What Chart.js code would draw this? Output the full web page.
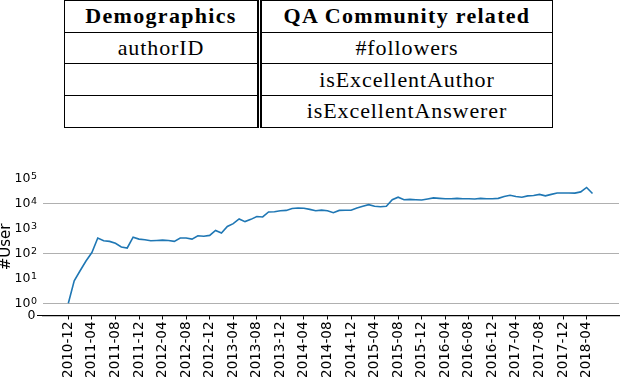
<!DOCTYPE html>
<html>
<head>
<meta charset="utf-8">
<script src="https://cdn.jsdelivr.net/npm/chart.js@4.4.1/dist/chart.umd.min.js"></script>
<style>
  html, body { margin: 0; padding: 0; background: #fff; }
  body { width: 620px; height: 378px; position: relative; overflow: hidden; }
  table {
    position: absolute; left: 64px; top: 0px; width: 489px;
    border-collapse: collapse;
    font-family: "Liberation Serif", serif; font-size: 22px; color: #000;
  }
  th, td { border: 1px solid #000; height: 30.7px; padding: 0; text-align: center; letter-spacing: 0.9px; }
  th { font-weight: bold; letter-spacing: 1.3px; }
  .c1 { width: 192px; }
  .c2 { border-left: 5px double #000; }
  #wrap { position: absolute; left: 0; top: 150px; width: 620px; height: 228px; }
</style>
</head>
<body>
<table>
  <tr><th class="c1">Demographics</th><th class="c2">QA Community related</th></tr>
  <tr><td class="c1">authorID</td><td class="c2">#followers</td></tr>
  <tr><td class="c1"></td><td class="c2">isExcellentAuthor</td></tr>
  <tr><td class="c1"></td><td class="c2">isExcellentAnswerer</td></tr>
</table>
<div id="wrap"><canvas id="myChart" width="620" height="228"></canvas></div>
<script>
// monthly users, 2010-12 .. 2018-05
const startYear = 2010, startMonth = 12;
const users = [
  1, 8, 20, 49, 107, 410, 318, 300, 250, 180,
  163, 440, 370, 350, 318, 325, 336, 325, 300, 410,
  410, 370, 500, 480, 520, 820, 650, 1180, 1540, 2360,
  1850, 2280, 2950, 2850, 4500, 4600, 5000, 5200, 6150, 6500,
  6300, 5700, 5050, 5350, 5000, 4200, 5200, 5300, 5300, 6500,
  7600, 8800, 7600, 7300, 7600, 13900, 17500, 13900, 14300, 13900,
  13500, 14900, 16400, 15800, 15300, 15300, 15800, 15300, 15300, 14900,
  15800, 15300, 15300, 15800, 18700, 21000, 18700, 17500, 19800, 20500,
  22800, 19800, 22800, 26000, 26000, 26000, 25500, 28600, 43000, 24600
];
const months = users.map((v, i) => {
  const m = (startMonth - 1 + i) % 12 + 1;
  const y = startYear + Math.floor((startMonth - 1 + i) / 12);
  return y + "-" + String(m).padStart(2, "0");
});
const xTickIdx = months.map((m, i) => i).filter(i => i % 4 === 0);

const yTicks = [0, 1, 10, 100, 1000, 10000, 100000];
const yTickExp = [null, "0", "1", "2", "3", "4", "5"];
const yGridAt = [1, 100, 10000];

// symlog-ish: linear below 1, log10 above
const LIN = 0.488;
const tf = v => v <= 1 ? v * LIN : LIN + Math.log10(v);
const itf = t => t <= LIN ? t / LIN : Math.pow(10, t - LIN);

class SymLogScale extends Chart.Scale {
  determineDataLimits() {
    this.min = this.options.min;
    this.max = this.options.max;
  }
  buildTicks() {
    return yTicks.map(v => ({ value: v }));
  }
  configure() {
    super.configure();
    this._startValue = tf(this.min);
    this._valueRange = tf(this.max) - tf(this.min);
  }
  getLabelForValue(v) { return String(v); }
  getPixelForValue(v) {
    return this.getPixelForDecimal((tf(v) - this._startValue) / this._valueRange);
  }
  getValueForPixel(p) {
    return itf(this._startValue + this.getDecimalForPixel(p) * this._valueRange);
  }
}
SymLogScale.id = "symlog";
SymLogScale.defaults = {};
Chart.register(SymLogScale);

// y tick labels as 10 with a raised exponent
const expLabels = {
  id: "expLabels",
  afterDraw(chart) {
    const s = chart.scales.y, c = chart.ctx;
    c.save();
    c.fillStyle = "#000";
    s.ticks.forEach(t => {
      const y = s.getPixelForValue(t.value);
      const exp = yTickExp[yTicks.indexOf(t.value)];
      c.font = "12.5px 'DejaVu Sans'";
      c.textAlign = "right";
      c.textBaseline = "middle";
      if (exp === null) { c.fillText("0", 35.5, y); return; }
      c.fillText("10", 30.5, y + 0.5);
      c.font = "9.5px 'DejaVu Sans'";
      c.textAlign = "left";
      c.textBaseline = "alphabetic";
      c.fillText(exp, 31, y + 0.5);
    });
    c.restore();
  }
};

const ctx = document.getElementById("myChart").getContext("2d");
new Chart(ctx, {
  type: "line",
  data: {
    datasets: [{
      data: users.map((v, i) => ({ x: i, y: v })),
      borderColor: "#1f77b4",
      borderWidth: 1.6,
      pointRadius: 0,
      tension: 0,
      fill: false
    }]
  },
  options: {
    responsive: false,
    animation: false,
    devicePixelRatio: 1,
    layout: { padding: { top: 28.3, right: 1, left: 0, bottom: 0 } },
    plugins: { legend: { display: false }, tooltip: { enabled: false } },
    scales: {
      x: {
        type: "linear",
        min: -4.3,
        max: 93.5,
        afterBuildTicks: s => { s.ticks = xTickIdx.map(v => ({ value: v })); },
        afterFit: s => { s.height = 62.5; },
        border: { display: true, color: "#000", width: 1.2 },
        grid: { drawOnChartArea: false, drawTicks: true, tickLength: 4, tickColor: "#000" },
        ticks: {
          autoSkip: false,
          minRotation: 90,
          maxRotation: 90,
          padding: 2,
          color: "#000",
          font: { family: "DejaVu Sans", size: 13.5 },
          callback: v => months[v]
        }
      },
      y: {
        type: "symlog",
        min: 0,
        max: 100000,
        afterFit: s => { s.width = 43; },
        border: { display: false },
        grid: {
          color: c => yGridAt.includes(c.tick && c.tick.value) ? "#b0b0b0" : "rgba(0,0,0,0)",
          tickColor: c => (c.tick && c.tick.value === 0) ? "#000" : "rgba(0,0,0,0)",
          tickLength: 6,
          lineWidth: 1
        },
        ticks: { display: false },
        title: {
          display: true,
          text: "#User",
          color: "#000",
          font: { family: "DejaVu Sans", size: 15, lineHeight: 1 },
          padding: { top: -1, bottom: 0 }
        }
      }
    }
  },
  plugins: [expLabels]
});
</script>
</body>
</html>
